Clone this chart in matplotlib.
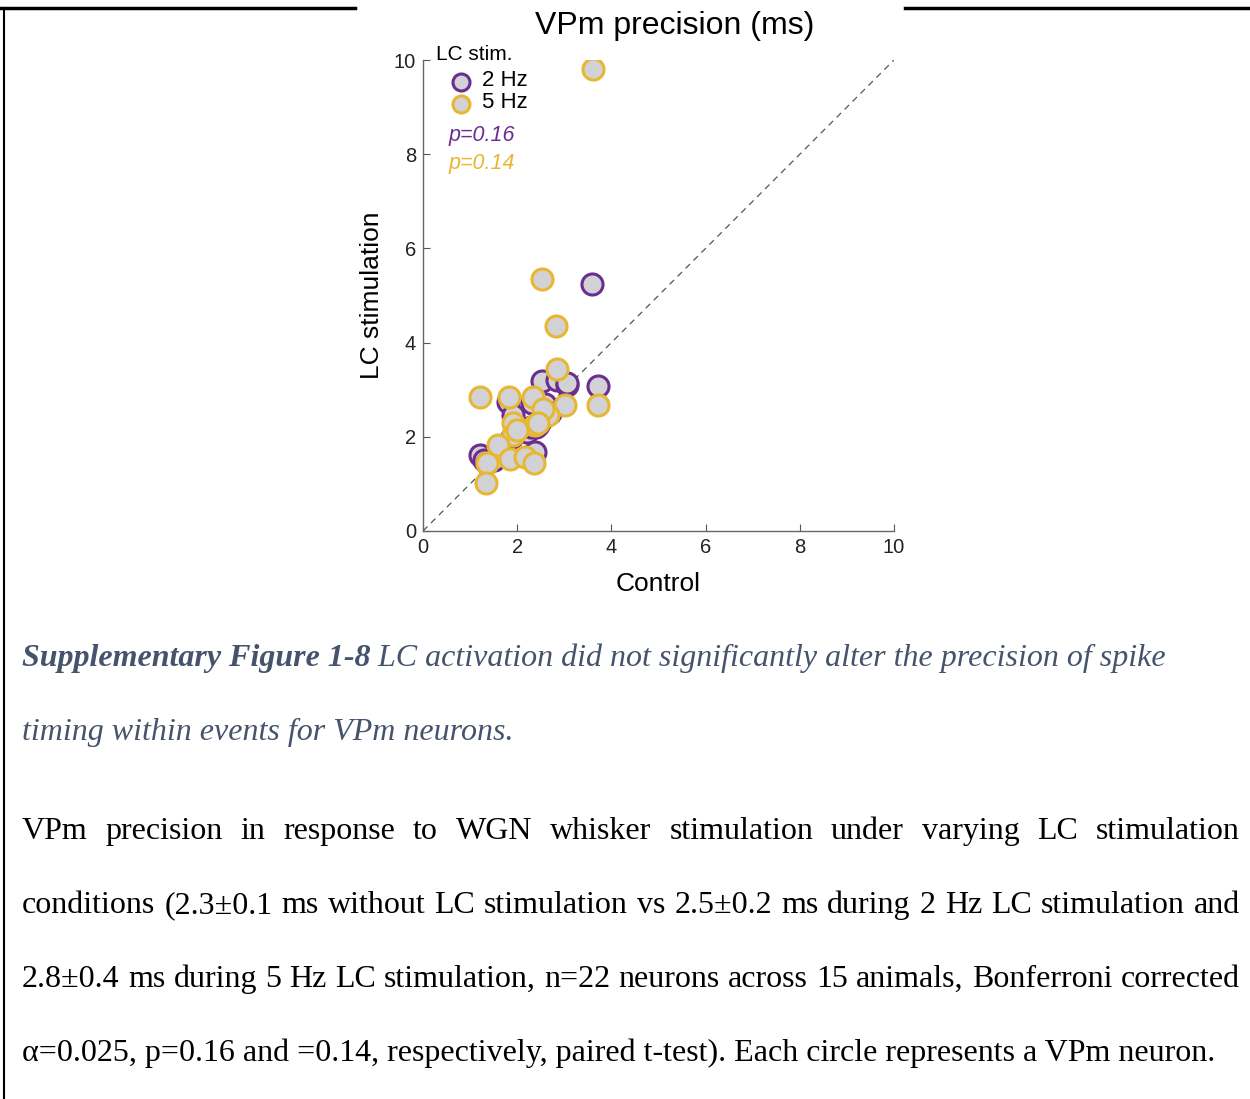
import matplotlib
matplotlib.use('Agg')
import matplotlib.pyplot as plt
from matplotlib.lines import Line2D
import numpy as np

# data (ms)
ctrl_2hz = [3.59, 3.72, 2.53, 2.85, 3.06, 1.21, 1.30, 2.38, 1.80, 1.91, 2.31,
            2.40, 2.50, 2.20, 1.35, 2.60, 1.90, 2.45, 2.30, 3.05, 2.70, 1.50]
stim_2hz = [5.24, 3.08, 3.18, 3.20, 3.10, 1.61, 1.50, 1.68, 2.74, 2.46, 2.72,
            2.20, 2.35, 2.10, 1.45, 2.70, 2.00, 2.25, 2.20, 3.15, 2.50, 1.50]
ctrl_5hz = [3.61, 2.53, 2.82, 2.85, 3.72, 3.01, 1.21, 1.83, 2.34, 2.65, 2.38,
            1.91, 1.91, 1.59, 1.36, 1.34, 1.85, 2.17, 2.36, 2.55, 2.45, 2.00]
stim_5hz = [9.81, 5.35, 4.35, 3.44, 2.68, 2.68, 2.85, 2.85, 2.84, 2.46, 2.25,
            2.29, 2.04, 1.83, 1.44, 1.02, 1.53, 1.57, 1.44, 2.60, 2.30, 2.15]
ticks = [0, 2, 4, 6, 8, 10]
p_vals = ['p=0.16', 'p=0.14']

caption_bold = 'Supplementary Figure 1-8'
caption_1 = ' LC activation did not significantly alter the precision of spike'
caption_2 = 'timing within events for VPm neurons.'
body = [
    'VPm precision in response to WGN whisker stimulation under varying LC stimulation',
    'conditions (2.3\u00b10.1 ms without LC stimulation vs 2.5\u00b10.2 ms during 2 Hz LC stimulation and',
    '2.8\u00b10.4 ms during 5 Hz LC stimulation, n=22 neurons across 15 animals, Bonferroni corrected',
    '\u03b1=0.025, p=0.16 and =0.14, respectively, paired t-test). Each circle represents a VPm neuron.',
]

purple = '#6b2d8f'
gold = '#e8b730'
face = '#d2d2d6'
cap_col = '#46536c'
fs_txt = 23

W, H = 1250, 1099
fig = plt.figure(figsize=(W/100, H/100), dpi=100)
plt.rcParams['font.family'] = ['Liberation Sans', 'DejaVu Sans']

# page border lines
fig.add_artist(Line2D([0, 355/W], [1-8/H, 1-8/H], color='k', lw=2.5))
fig.add_artist(Line2D([905/W, 1], [1-8/H, 1-8/H], color='k', lw=2.5))
fig.add_artist(Line2D([4/W, 4/W], [0, 1-8/H], color='k', lw=1.5))

ax = fig.add_axes([423/W, 1-531/H, 471/W, 471/H])
ax.plot([0, 10], [0, 10], ls=(0, (5, 4)), color='#555555', lw=0.9, zorder=1)
ax.scatter(ctrl_2hz, stim_2hz, s=230, facecolor=face, edgecolor=purple, lw=2.2, zorder=2)
ax.scatter(ctrl_5hz, stim_5hz, s=230, facecolor=face, edgecolor=gold, lw=2.2, zorder=3)
ax.set_xlim(0, 10)
ax.set_ylim(0, 10)
ax.set_xticks(ticks)
ax.set_yticks(ticks)
ax.tick_params(direction='in', length=5, color='#555555', labelsize=14.5,
               labelcolor='#222222', pad=5)
for s in ['top', 'right']:
    ax.spines[s].set_visible(False)
for s in ['left', 'bottom']:
    ax.spines[s].set_color('#666666')
    ax.spines[s].set_linewidth(1.0)
ax.set_xlabel('Control', fontsize=19, labelpad=10.5)
ax.set_ylabel('LC stimulation', fontsize=19, labelpad=7)

# legend drawn by hand
fig.text(436/W, 1-55/H, 'LC stim.', fontsize=15, va='center')
ax.scatter([0.8], [9.54], s=150, facecolor=face, edgecolor=purple, lw=2.2, clip_on=False, zorder=4)
ax.scatter([0.8], [9.07], s=150, facecolor=face, edgecolor=gold, lw=2.2, clip_on=False, zorder=4)
fig.text(482/W, 1-80/H, '2 Hz', fontsize=16, va='center')
fig.text(482/W, 1-102/H, '5 Hz', fontsize=16, va='center')
fig.text(449/W, 1-135/H, p_vals[0], fontsize=15.5, va='center', style='italic', color=purple)
fig.text(449/W, 1-163/H, p_vals[1], fontsize=15.5, va='center', style='italic', color=gold)

fig.text(675/W, 1-26/H, 'VPm precision (ms)', fontsize=23, ha='center', va='center')

# caption
serif = 'Liberation Serif'
r = fig.canvas.get_renderer()
t = fig.text(22/W, 1-666/H, caption_bold, fontsize=fs_txt, family=serif, style='italic',
             weight='bold', color=cap_col, va='baseline')
bb = t.get_window_extent(r)
fig.text(bb.x1/W, 1-666/H, caption_1, fontsize=fs_txt, family=serif, style='italic',
         color=cap_col, va='baseline')
fig.text(22/W, 1-740/H, caption_2, fontsize=fs_txt, family=serif, style='italic',
         color=cap_col, va='baseline')

# justified body text
x0, x1 = 22, 1240
ys = [839, 913, 987, 1061]
for i, line in enumerate(body):
    y = 1 - ys[i]/H
    if i == len(body) - 1:
        fig.text(x0/W, y, line, fontsize=fs_txt, family=serif, va='baseline')
        continue
    words = line.split(' ')
    tw = []
    arts = []
    for w in words:
        a = fig.text(0, y, w, fontsize=fs_txt, family=serif, va='baseline')
        tw.append(a.get_window_extent(r).width)
        arts.append(a)
    gap = (x1 - x0 - sum(tw)) / (len(words) - 1)
    x = x0
    for a, w in zip(arts, tw):
        a.set_x(x/W)
        x += w + gap

fig.savefig('out.png', dpi=100)
